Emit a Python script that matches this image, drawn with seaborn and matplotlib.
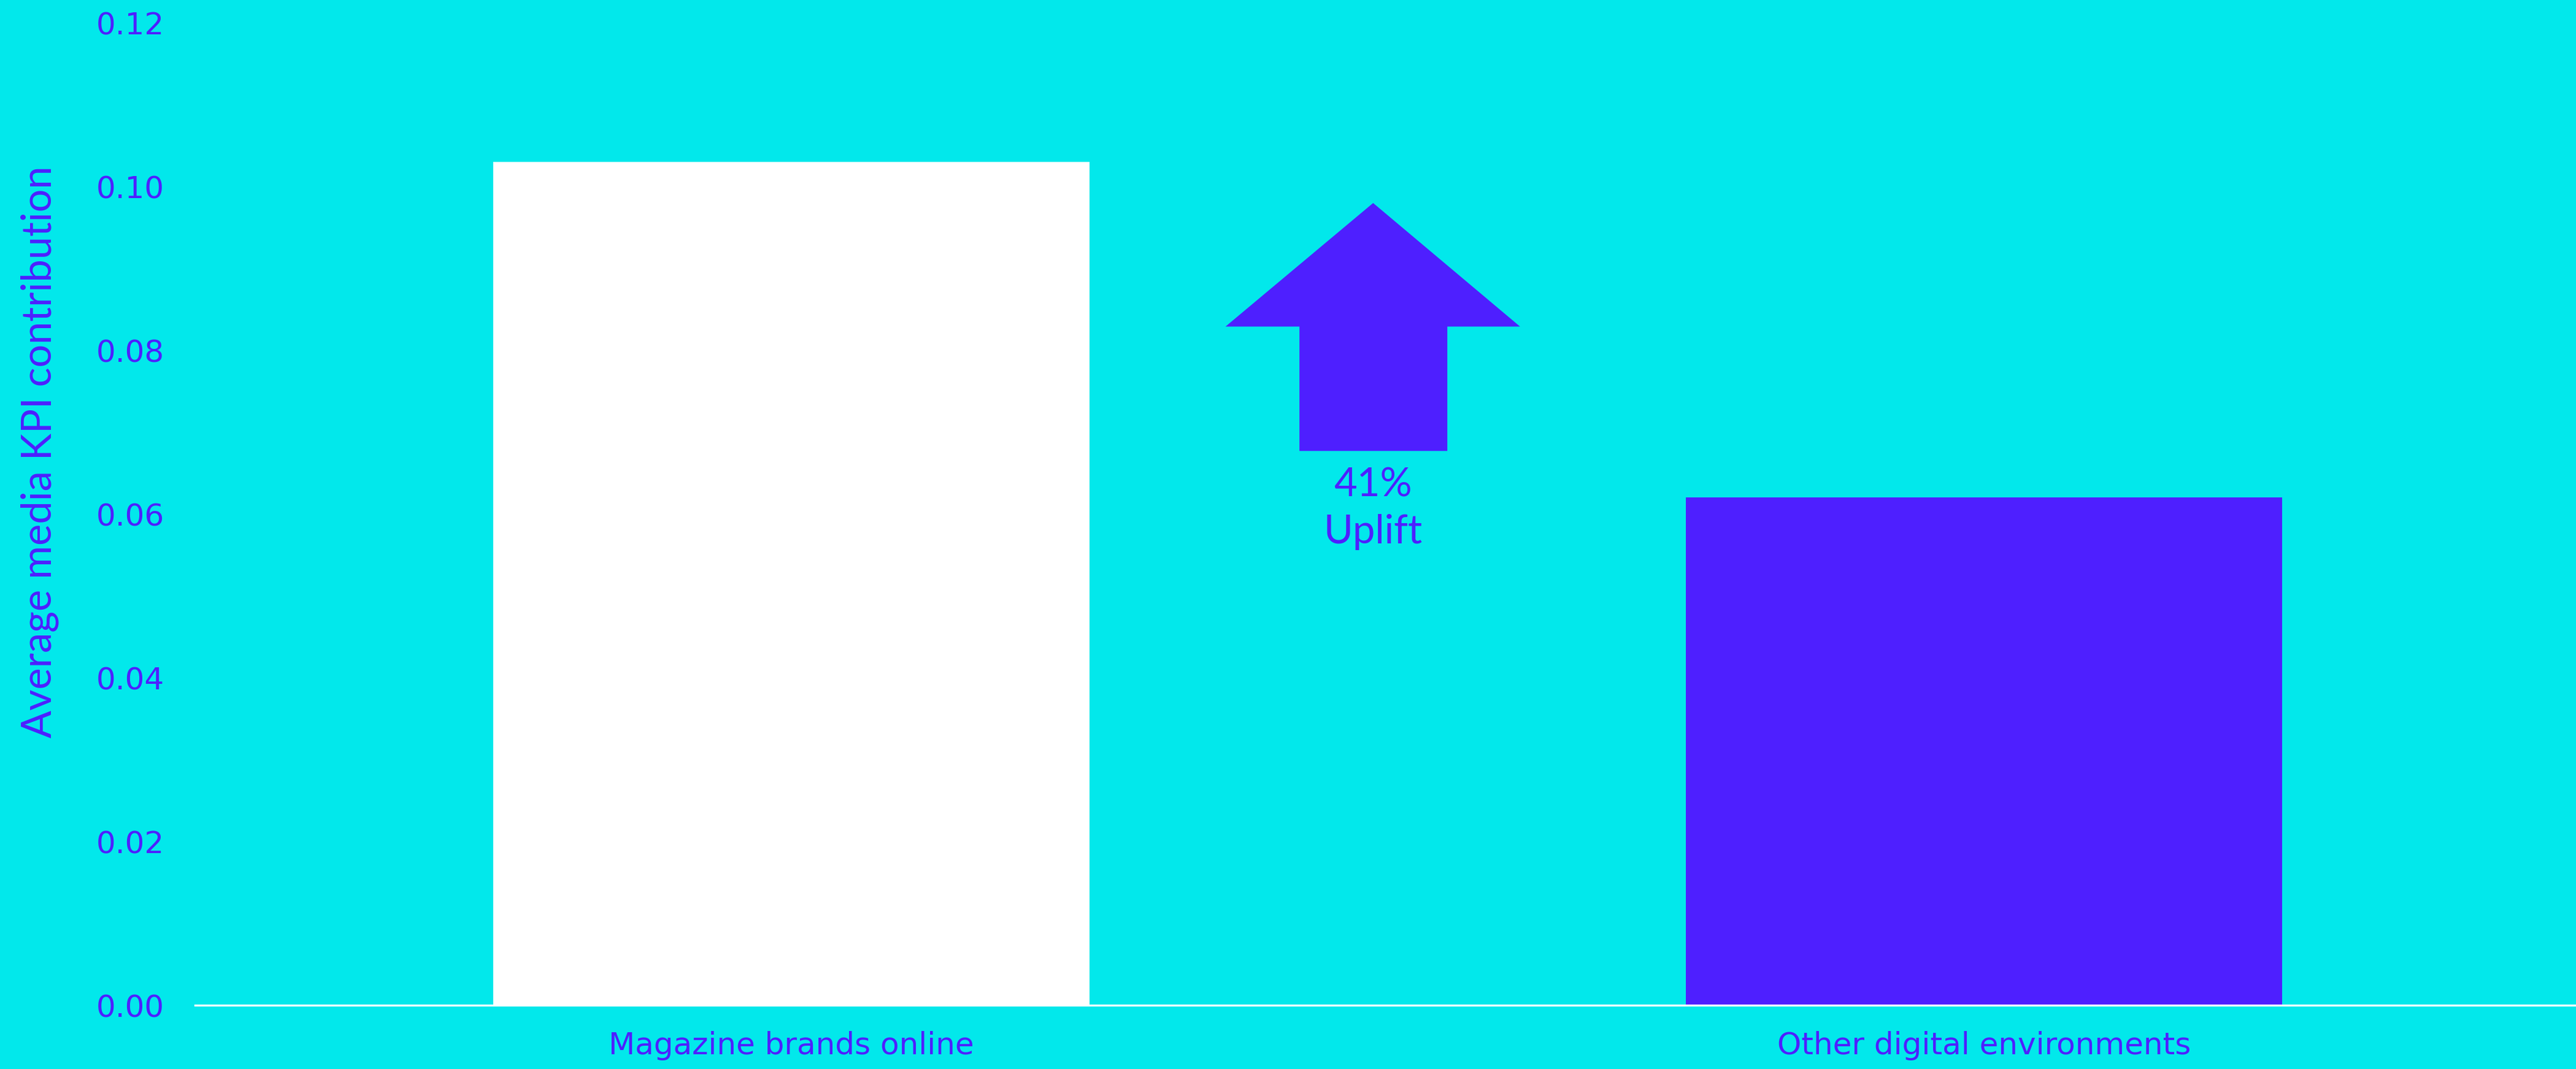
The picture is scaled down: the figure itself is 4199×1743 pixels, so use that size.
import matplotlib
matplotlib.use("Agg")
import matplotlib.pyplot as plt
from matplotlib.patches import Polygon
import seaborn as sns
import pandas as pd

# Data
categories = ["Magazine brands online", "Other digital environments"]
kpi_contribution = [0.103, 0.062]
uplift_label = "41%\nUplift"

# Styling
BG = "#02E8EB"
PURPLE = "#4E1FFF"
bar_colors = ["#FFFFFF", PURPLE]

sns.set_theme(style="white")
plt.rcParams["font.family"] = ["DejaVu Sans"]

df = pd.DataFrame({"category": categories, "value": kpi_contribution})

W, H, DPI = 4199, 1744, 300
fig = plt.figure(figsize=(W / DPI, (H - 0.5) / DPI), dpi=DPI, facecolor=BG)
ax = fig.add_axes([318 / W, 1 - 1639.5 / H, (4206 - 318) / W, (1639.5 - 38) / H])
ax.set_facecolor(BG)

sns.barplot(data=df, x="category", y="value", hue="category",
            palette=bar_colors, width=0.5, saturation=1, legend=False,
            linewidth=0, ax=ax)

ax.set_xlim(-0.5, 1.5)
ax.set_ylim(0, 0.12)
ax.set_yticks([0, 0.02, 0.04, 0.06, 0.08, 0.10, 0.12])
ax.set_yticklabels([f"{t:.2f}" for t in ax.get_yticks()])

for side in ["top", "right", "left"]:
    ax.spines[side].set_visible(False)
ax.spines["bottom"].set_color("white")
ax.spines["bottom"].set_linewidth(0.8)
ax.spines["bottom"].set_zorder(5)

ax.tick_params(axis="both", length=0, labelsize=12, colors=PURPLE)
ax.tick_params(axis="y", pad=12)
ax.tick_params(axis="x", pad=10)

ax.set_xlabel("")
ax.set_ylabel("Average media KPI contribution", color=PURPLE, fontsize=16,
              family=["Lato", "DejaVu Sans"])
ax.yaxis.set_label_coords(-0.057, 0.5635)

# Uplift arrow between the bars
arrow = Polygon([(0.426, 0.0677), (0.550, 0.0677), (0.550, 0.0829),
                 (0.611, 0.0829), (0.4878, 0.098), (0.364, 0.0829),
                 (0.426, 0.0829)], closed=True, facecolor=PURPLE,
                edgecolor="none", zorder=3)
ax.add_patch(arrow)
ax.text(0.4878, 0.0607, uplift_label, ha="center", va="center", color=PURPLE,
        fontsize=15.6, linespacing=1.35, family=["Lato", "DejaVu Sans"])

fig.savefig("out.png", dpi=DPI, facecolor=BG)
